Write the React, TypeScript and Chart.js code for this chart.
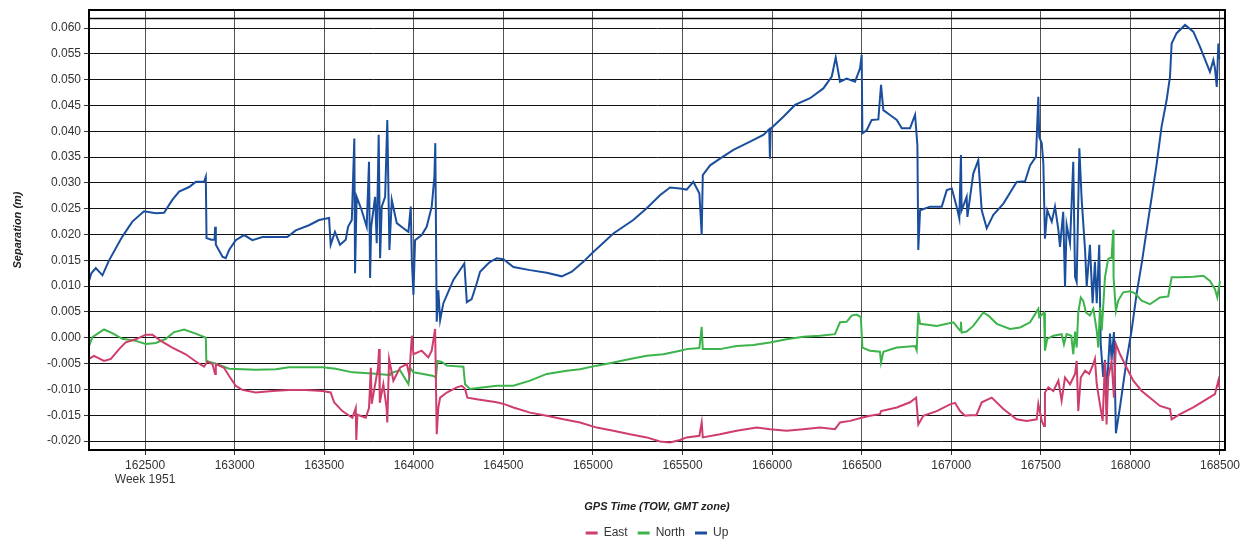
import React, { useEffect, useRef } from "react";
import { Chart, registerables } from "chart.js";

Chart.register(...registerables);

// ---- data: [GPS time (TOW), separation (m)] ----
const eastPoints: [number, number][] = [
  [162187, -0.0041], [162215, -0.0035], [162271, -0.0045], [162309, -0.0041], [162355, -0.0022],
  [162392, -0.0009], [162448, -0.0003], [162504, 0.0006], [162541, 0.0006], [162588, -0.0006],
  [162652, -0.0019], [162727, -0.0032], [162783, -0.0046], [162829, -0.0056], [162848, -0.0046],
  [162876, -0.0051], [162891, -0.007], [162895, -0.0051], [162941, -0.0058], [162969, -0.0074],
  [163006, -0.0093], [163043, -0.0101], [163118, -0.0106], [163211, -0.0103], [163304, -0.0101],
  [163397, -0.0101], [163490, -0.0103], [163536, -0.0106], [163555, -0.0125], [163601, -0.0142],
  [163657, -0.0155], [163676, -0.0136], [163679, -0.0198], [163685, -0.0149], [163732, -0.0155],
  [163750, -0.0136], [163760, -0.0058], [163765, -0.0128], [163788, -0.0083], [163800, -0.0059],
  [163806, -0.0022], [163810, -0.0126], [163830, -0.009], [163848, -0.0136], [163852, -0.0164],
  [163862, -0.0041], [163886, -0.0083], [163923, -0.0058], [163961, -0.0051], [163975, -0.0073],
  [163989, 0.0004], [163998, -0.0032], [164044, -0.0025], [164081, -0.0038], [164100, -0.0025],
  [164119, 0.0017], [164128, -0.0187], [164137, -0.0135], [164147, -0.0116], [164184, -0.0106],
  [164240, -0.0096], [164268, -0.0093], [164286, -0.0099], [164299, -0.0116], [164351, -0.0119],
  [164407, -0.0122], [164463, -0.0125], [164509, -0.0129], [164556, -0.0135], [164649, -0.0145],
  [164742, -0.0151], [164835, -0.0158], [164928, -0.0164], [165021, -0.0174], [165114, -0.018],
  [165207, -0.0187], [165300, -0.0193], [165374, -0.0201], [165430, -0.0203], [165486, -0.0198],
  [165523, -0.0193], [165594, -0.019], [165607, -0.0164], [165613, -0.0193], [165709, -0.0187],
  [165802, -0.018], [165914, -0.0174], [165988, -0.0177], [166081, -0.018], [166174, -0.0177],
  [166267, -0.0174], [166351, -0.0177], [166379, -0.0164], [166435, -0.0161], [166500, -0.0155],
  [166546, -0.0151], [166602, -0.0148], [166608, -0.0142], [166696, -0.0135], [166770, -0.0125],
  [166804, -0.0116], [166816, -0.0168], [166844, -0.0151], [166919, -0.0142], [166993, -0.0129],
  [167021, -0.0126], [167049, -0.0142], [167077, -0.0151], [167105, -0.015], [167140, -0.015],
  [167170, -0.0125], [167226, -0.0116], [167291, -0.0138], [167365, -0.0158], [167421, -0.0161],
  [167477, -0.0158], [167486, -0.0128], [167505, -0.0161], [167518, -0.0171], [167523, -0.0106],
  [167542, -0.0096], [167570, -0.0103], [167598, -0.0083], [167616, -0.0122], [167635, -0.0077],
  [167663, -0.009], [167691, -0.007], [167700, -0.0045], [167709, -0.0142], [167723, -0.0077],
  [167747, -0.0064], [167770, -0.007], [167793, -0.0051], [167802, -0.0041], [167812, -0.009],
  [167830, -0.0129], [167845, -0.0161], [167858, -0.0045], [167867, -0.0168], [167876, -0.0077],
  [167895, -0.0045], [167908, -0.0116], [167919, -0.0012], [167942, -0.0032], [167979, -0.0058],
  [168016, -0.0083], [168063, -0.0103], [168109, -0.0116], [168165, -0.0132], [168221, -0.0138],
  [168230, -0.0158], [168277, -0.0148], [168351, -0.0135], [168426, -0.0119], [168472, -0.0109],
  [168491, -0.0083], [168496, -0.0096],
];

const northPoints: [number, number][] = [
  [162187, -0.0016], [162206, 0.0001], [162271, 0.0016], [162317, 0.0009], [162373, -0.0002],
  [162448, -0.0006], [162504, -0.0012], [162560, -0.001], [162616, -0.0002], [162662, 0.0011],
  [162718, 0.0016], [162783, 0.0008], [162839, 0.0], [162842, -0.0045], [162895, -0.005],
  [162969, -0.006], [163118, -0.0062], [163229, -0.0061], [163304, -0.0057], [163490, -0.0057],
  [163564, -0.006], [163657, -0.0067], [163769, -0.0069], [163862, -0.0072], [163867, -0.0069],
  [163923, -0.0063], [163970, -0.009], [163979, -0.0058], [163998, -0.0067], [164053, -0.007],
  [164109, -0.0074], [164124, -0.0077], [164132, -0.0045], [164156, -0.0047], [164184, -0.0054],
  [164277, -0.0056], [164286, -0.009], [164314, -0.0099], [164370, -0.0097], [164463, -0.0093],
  [164556, -0.0093], [164649, -0.0083], [164742, -0.007], [164854, -0.0064], [164928, -0.0061],
  [165021, -0.0054], [165114, -0.0048], [165207, -0.0041], [165300, -0.0035], [165393, -0.0032],
  [165486, -0.0025], [165523, -0.0022], [165594, -0.002], [165607, 0.0021], [165613, -0.0022],
  [165709, -0.0022], [165802, -0.0016], [165895, -0.0014], [165988, -0.0009], [166081, -0.0003],
  [166174, 0.0002], [166267, 0.0004], [166351, 0.0007], [166379, 0.003], [166416, 0.0031],
  [166444, 0.0043], [166472, 0.0045], [166495, 0.004], [166504, -0.0019], [166546, -0.0025],
  [166602, -0.0027], [166608, -0.0048], [166621, -0.0027], [166696, -0.0019], [166798, -0.0016],
  [166807, -0.0024], [166816, 0.0049], [166826, 0.0027], [166919, 0.0023], [167012, 0.003],
  [167049, 0.0014], [167054, 0.0031], [167058, 0.001], [167086, 0.0012], [167123, 0.0023],
  [167179, 0.0049], [167207, 0.0043], [167254, 0.0027], [167328, 0.0017], [167384, 0.002],
  [167440, 0.003], [167486, 0.0056], [167491, 0.004], [167518, 0.0049], [167523, -0.0025],
  [167536, -0.0002], [167570, 0.0004], [167616, 0.0007], [167629, -0.0013], [167644, 0.0007],
  [167670, 0.0004], [167681, -0.0032], [167691, 0.0012], [167700, -0.0019], [167709, 0.0049],
  [167723, 0.0078], [167737, 0.0071], [167752, 0.0049], [167774, 0.0043], [167793, 0.0056],
  [167812, 0.0014], [167821, -0.0019], [167830, 0.0059], [167840, 0.0014], [167858, 0.0117],
  [167876, 0.0153], [167895, 0.0155], [167904, 0.0209], [167906, 0.0117], [167919, 0.0052],
  [167932, 0.0072], [167960, 0.0088], [167998, 0.009], [168026, 0.0086], [168063, 0.0072],
  [168109, 0.0065], [168165, 0.0078], [168211, 0.008], [168230, 0.0117], [168277, 0.0117],
  [168351, 0.0118], [168407, 0.012], [168444, 0.011], [168472, 0.0094], [168485, 0.0078],
  [168500, 0.011],
];

const upPoints: [number, number][] = [
  [162187, 0.011], [162200, 0.0125], [162225, 0.0135], [162262, 0.0121], [162299, 0.015],
  [162373, 0.0196], [162429, 0.0225], [162494, 0.0245], [162560, 0.0241], [162606, 0.0242],
  [162652, 0.0267], [162690, 0.0283], [162746, 0.0292], [162783, 0.0302], [162829, 0.0302],
  [162839, 0.0312], [162843, 0.0193], [162870, 0.019], [162888, 0.019], [162891, 0.0215],
  [162895, 0.018], [162932, 0.0157], [162950, 0.0154], [162969, 0.017], [163006, 0.0189],
  [163053, 0.0199], [163099, 0.0189], [163155, 0.0195], [163230, 0.0195], [163294, 0.0195],
  [163341, 0.0208], [163415, 0.0218], [163471, 0.0228], [163527, 0.0232], [163536, 0.018],
  [163560, 0.0205], [163588, 0.018], [163620, 0.019], [163633, 0.0215], [163654, 0.0228],
  [163668, 0.0386], [163672, 0.0125], [163681, 0.0273], [163709, 0.0247], [163737, 0.0215],
  [163750, 0.0341], [163756, 0.0116], [163762, 0.0215], [163784, 0.0273], [163793, 0.0183],
  [163804, 0.0393], [163812, 0.0154], [163821, 0.0254], [163840, 0.0273], [163852, 0.0422],
  [163864, 0.017], [163877, 0.0267], [163905, 0.0222], [163942, 0.0212], [163970, 0.0205],
  [163983, 0.0254], [163989, 0.015], [163998, 0.0083], [164007, 0.0189], [164044, 0.0199],
  [164072, 0.0215], [164100, 0.0254], [164115, 0.0312], [164120, 0.0377], [164128, 0.0031],
  [164137, 0.0092], [164147, 0.0034], [164165, 0.0067], [164221, 0.0112], [164282, 0.0144],
  [164296, 0.0069], [164323, 0.0075], [164351, 0.0105], [164370, 0.0128], [164407, 0.0141],
  [164426, 0.0147], [164463, 0.0154], [164500, 0.0152], [164556, 0.0137], [164649, 0.0131],
  [164742, 0.0126], [164826, 0.0119], [164882, 0.0128], [164946, 0.0147], [165002, 0.0166],
  [165114, 0.0202], [165225, 0.0228], [165300, 0.0251], [165374, 0.0276], [165430, 0.0291],
  [165486, 0.0289], [165523, 0.0287], [165560, 0.0302], [165594, 0.028], [165607, 0.0199],
  [165613, 0.0315], [165654, 0.0334], [165709, 0.0347], [165784, 0.0364], [165877, 0.038],
  [165951, 0.0393], [165984, 0.0404], [165988, 0.0347], [165992, 0.0405], [166063, 0.0428],
  [166128, 0.0451], [166212, 0.0464], [166286, 0.0483], [166333, 0.0506], [166355, 0.0543],
  [166379, 0.0496], [166416, 0.0502], [166463, 0.0496], [166491, 0.0522], [166500, 0.0548],
  [166504, 0.0396], [166528, 0.0402], [166556, 0.0422], [166593, 0.0423], [166608, 0.049],
  [166621, 0.0441], [166660, 0.0431], [166696, 0.0422], [166724, 0.0406], [166770, 0.0406],
  [166798, 0.0432], [166811, 0.0373], [166816, 0.017], [166826, 0.0247], [166882, 0.0254],
  [166947, 0.0254], [166975, 0.0286], [167003, 0.0289], [167030, 0.0254], [167045, 0.0231],
  [167054, 0.0354], [167058, 0.0247], [167086, 0.0273], [167090, 0.0234], [167123, 0.0318],
  [167151, 0.0344], [167170, 0.0247], [167198, 0.0212], [167235, 0.0238], [167291, 0.026],
  [167365, 0.0302], [167412, 0.0303], [167440, 0.0334], [167473, 0.0351], [167486, 0.0467],
  [167491, 0.0389], [167505, 0.0377], [167514, 0.0338], [167523, 0.0192], [167536, 0.0247],
  [167561, 0.0225], [167579, 0.0254], [167598, 0.0209], [167607, 0.0176], [167625, 0.0244],
  [167635, 0.0099], [167644, 0.0219], [167663, 0.0183], [167681, 0.0341], [167691, 0.0118],
  [167700, 0.0108], [167715, 0.0367], [167728, 0.0267], [167747, 0.017], [167756, 0.0099],
  [167774, 0.018], [167789, 0.0067], [167802, 0.0147], [167812, 0.0067], [167826, 0.018],
  [167834, -0.0011], [167848, -0.0076], [167858, -0.0043], [167867, -0.0108], [167886, 0.0008],
  [167895, -0.0043], [167908, 0.0011], [167919, -0.0185], [167942, -0.0134], [167979, -0.0043],
  [168007, 0.0015], [168035, 0.0086], [168063, 0.0144], [168091, 0.0209], [168119, 0.0273],
  [168147, 0.0338], [168174, 0.0409], [168202, 0.046], [168221, 0.0506], [168230, 0.057],
  [168258, 0.059], [168305, 0.0606], [168351, 0.0593], [168388, 0.0564], [168444, 0.0515],
  [168463, 0.0538], [168472, 0.0522], [168482, 0.0486], [168491, 0.057], [168496, 0.054],
];

const seriesNames = ["East", "North", "Up"];
const seriesColors = ["#cf3d6b", "#3cb44b", "#1b4f9e"];
const xRange = [162187, 168528];
const yRange = [-0.02174, 0.06349];
const xTickValues = [162500, 163000, 163500, 164000, 164500, 165000, 165500, 166000, 166500, 167000, 167500, 168000, 168500];
const yStep = 0.005;
const firstTickValue = 162500;
const firstTickSubLabel = "Week 1951";
const topRuleValue = 0.0619;
const xTitle = "GPS Time (TOW, GMT zone)";
const yTitle = "Separation (m)";

const FONT = '"Liberation Sans", Arial, sans-serif';

const framePlugin = {
  id: "frame",
  afterLayout(chart: any) {
    const lg = chart.legend;
    const ca = chart.chartArea;
    if (lg && ca) {
      lg.left = ca.left;
      lg.right = ca.right;
      lg.width = ca.right - ca.left;
    }
  },
  afterDraw(chart: any) {
    const { ctx, chartArea: ca, scales } = chart;
    ctx.save();
    ctx.strokeStyle = "#000";
    ctx.lineWidth = 1.5;
    const y = Math.round(scales.y.getPixelForValue(topRuleValue)) + 0.5;
    ctx.beginPath();
    ctx.moveTo(ca.left, y);
    ctx.lineTo(ca.right, y);
    ctx.stroke();
    ctx.lineWidth = 2;
    ctx.strokeRect(ca.left, ca.top, ca.right - ca.left, ca.bottom - ca.top);
    ctx.restore();
  },
};

export default function App() {
  const ref = useRef<HTMLCanvasElement | null>(null);

  useEffect(() => {
    if (!ref.current) return;
    const all = [eastPoints, northPoints, upPoints];
    const chart = new Chart(ref.current, {
      type: "line",
      data: {
        datasets: all.map((pts, i) => ({
          label: seriesNames[i],
          data: pts.map(([x, y]) => ({ x, y })),
          borderColor: seriesColors[i],
          backgroundColor: seriesColors[i],
          borderWidth: 2,
          pointRadius: 0,
          tension: 0,
          fill: false,
        })),
      },
      options: {
        animation: false,
        responsive: true,
        maintainAspectRatio: false,
        layout: { padding: { top: 10, right: 24, left: 0, bottom: 0 } },
        plugins: {
          tooltip: { enabled: false },
          legend: {
            position: "bottom",
            labels: {
              font: { family: FONT, size: 12 },
              color: "#333",
              boxWidth: 12,
              boxHeight: 3,
              padding: 10,
              generateLabels: (c: any) =>
                c.data.datasets.map((ds: any, i: number) => ({
                  text: ds.label,
                  fillStyle: ds.borderColor,
                  strokeStyle: ds.borderColor,
                  lineWidth: 0,
                  hidden: false,
                  datasetIndex: i,
                  fontColor: "#333",
                })),
            },
          },
        },
        scales: {
          x: {
            type: "linear",
            min: xRange[0],
            max: xRange[1],
            afterBuildTicks: (s: any) => {
              s.ticks = xTickValues.map((v) => ({ value: v }));
            },
            afterFit: (s: any) => {
              s.height = 67;
              s.paddingLeft = 0;
              s.paddingRight = 0;
            },
            ticks: {
              autoSkip: false,
              maxRotation: 0,
              minRotation: 0,
              color: "#333",
              font: { family: FONT, size: 12 },
              padding: 3,
              callback: (v: any) => {
                const n = Number(v);
                return n === firstTickValue ? [String(n), firstTickSubLabel] : String(n);
              },
            },
            grid: { color: "#555", lineWidth: 1, tickLength: 5, tickColor: "#333" },
            border: { display: true, color: "#000", width: 2 },
            title: {
              display: true,
              text: xTitle,
              color: "#222",
              font: { family: FONT, size: 11, weight: "bold", style: "italic" },
              padding: { top: 0, bottom: 3 },
            },
          },
          y: {
            type: "linear",
            min: yRange[0],
            max: yRange[1],
            afterFit: (s: any) => {
              s.width = 89;
              s.paddingTop = 0;
              s.paddingBottom = 0;
            },
            ticks: {
              stepSize: yStep,
              includeBounds: false,
              color: "#333",
              font: { family: FONT, size: 12 },
              padding: 3,
              callback: (v: any) => Number(v).toFixed(3),
            },
            grid: { color: "#111", lineWidth: 1, tickLength: 5, tickColor: "#333" },
            border: { display: true, color: "#000", width: 2 },
            title: {
              display: true,
              text: yTitle,
              color: "#222",
              font: { family: FONT, size: 11, weight: "bold", style: "italic" },
              padding: { top: 11, bottom: 0 },
            },
          },
        },
      },
      plugins: [framePlugin],
    } as any);
    return () => chart.destroy();
  }, []);

  return (
    <div style={{ position: "fixed", left: 0, top: 0, width: 1249, height: 549, background: "#fff" }}>
      <canvas ref={ref} />
    </div>
  );
}
